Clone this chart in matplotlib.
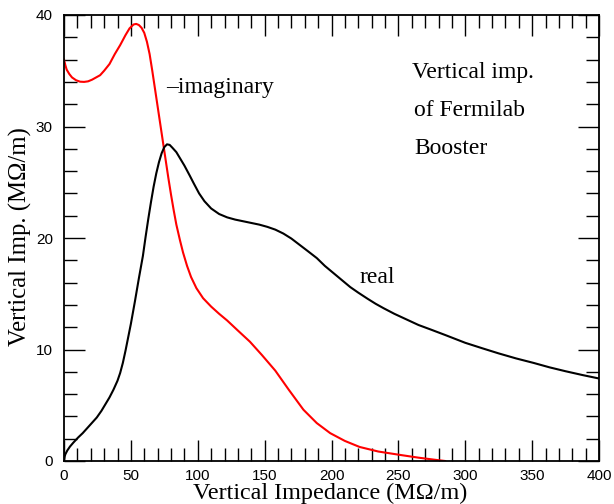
import matplotlib
matplotlib.use("Agg")
import matplotlib.pyplot as plt
from matplotlib.ticker import MultipleLocator

SERIF = ["Liberation Serif", "DejaVu Serif"]
SANS = ["Liberation Sans", "DejaVu Sans"]

X_LABEL = "Vertical Impedance (M\u03a9/m)"
Y_LABEL = "Vertical Imp. (M\u03a9/m)"

# -imaginary part (red)
imag_x = [0, 1, 2, 4, 6, 9, 12, 15, 18, 21, 24, 27, 30, 34, 38, 42, 46, 49,
          52, 54, 56, 58, 60, 62, 64, 66, 68, 70, 72, 74, 76, 78, 80, 82, 84,
          86.7, 89, 92, 95, 99, 104, 110, 116, 122, 130, 139, 148, 158, 168,
          179, 189, 199, 210, 221, 235, 251, 265, 278, 285]
imag_y = [36.0, 35.5, 35.1, 34.7, 34.4, 34.15, 34.02, 34.0, 34.05, 34.2,
          34.4, 34.6, 35.0, 35.6, 36.5, 37.3, 38.2, 38.8, 39.15, 39.2, 39.1,
          38.85, 38.4, 37.6, 36.5, 35.0, 33.4, 31.8, 30.2, 28.6, 27.0, 25.4,
          23.9, 22.5, 21.2, 19.8, 18.7, 17.5, 16.5, 15.5, 14.6, 13.85, 13.2,
          12.6, 11.7, 10.7, 9.5, 8.1, 6.4, 4.6, 3.4, 2.5, 1.8, 1.26, 0.85,
          0.55, 0.3, 0.1, 0.0]

# real part (black)
real_x = [0, 0.5, 1, 2.5, 4.5, 7, 10.5, 14, 17, 20, 24.5, 28, 31, 34, 37, 40,
          42, 44, 46, 48, 50, 53, 56, 59, 61, 63, 65, 67, 69, 71, 73, 75, 77,
          79, 81, 84, 87, 90, 94, 97, 101, 105, 110, 116, 122, 128, 134, 140,
          146, 152, 158, 164, 170, 176, 182, 189, 195, 202, 208, 214, 220,
          227, 233, 239, 247, 256, 265, 274, 285, 300, 313, 325, 338, 351,
          363, 375, 388, 400]
real_y = [0, 0.4, 0.6, 0.95, 1.3, 1.65, 2.1, 2.5, 2.9, 3.3, 3.9, 4.5, 5.1,
          5.7, 6.4, 7.2, 7.9, 8.8, 9.9, 11.1, 12.3, 14.3, 16.4, 18.4, 20.1,
          21.7, 23.2, 24.6, 25.8, 26.8, 27.6, 28.15, 28.4, 28.35, 28.1, 27.7,
          27.1, 26.5, 25.6, 24.9, 24.0, 23.3, 22.65, 22.15, 21.85, 21.65,
          21.5, 21.35, 21.2, 21.0, 20.75, 20.4, 19.95, 19.4, 18.85, 18.2,
          17.5, 16.8, 16.2, 15.6, 15.1, 14.55, 14.1, 13.7, 13.2, 12.7, 12.2,
          11.8, 11.3, 10.6, 10.1, 9.65, 9.2, 8.8, 8.4, 8.05, 7.7, 7.4]

fig = plt.figure(figsize=(6.14, 5.04), dpi=100)
ax = fig.add_axes([64 / 614, 1 - 461 / 504, 535 / 614, 446 / 504])

ax.plot(imag_x, imag_y, color="#ff0000", lw=1.5)
ax.plot(real_x, real_y, color="black", lw=1.5)

ax.set_xlim(0, 400)
ax.set_ylim(0, 40)
ax.xaxis.set_major_locator(MultipleLocator(50))
ax.xaxis.set_minor_locator(MultipleLocator(10))
ax.yaxis.set_major_locator(MultipleLocator(10))
ax.yaxis.set_minor_locator(MultipleLocator(2))
ax.tick_params(which="both", direction="in", top=True, right=True, width=1)
ax.tick_params(which="major", length=15, labelsize=11)
ax.tick_params(axis="x", which="major", pad=6)
ax.tick_params(axis="y", which="major", pad=8)
ax.tick_params(which="minor", length=9.5)
for lab in ax.get_xticklabels() + ax.get_yticklabels():
    lab.set_family(SANS)
for s in ax.spines.values():
    s.set_linewidth(1.3)

ax.text(76.3, 33.5, "\u2013imaginary", family=SERIF, fontsize=17, va="center")
ax.text(220.6, 16.5, "real", family=SERIF, fontsize=17, va="center")
ax.text(260.2, 34.8, "Vertical imp.", family=SERIF, fontsize=17, va="center")
ax.text(261.5, 31.4, "of Fermilab", family=SERIF, fontsize=17, va="center")
ax.text(262.2, 28.07, "Booster", family=SERIF, fontsize=17, va="center")

fig.text(330 / 614, 1 - 499 / 504, X_LABEL, family=SERIF, fontsize=17.4,
         ha="center", va="baseline")
fig.text(20 / 614, 1 - 237 / 504, Y_LABEL, family=SERIF, fontsize=17.8,
         ha="center", va="center", rotation=90)

plt.savefig("out.png", dpi=100)
